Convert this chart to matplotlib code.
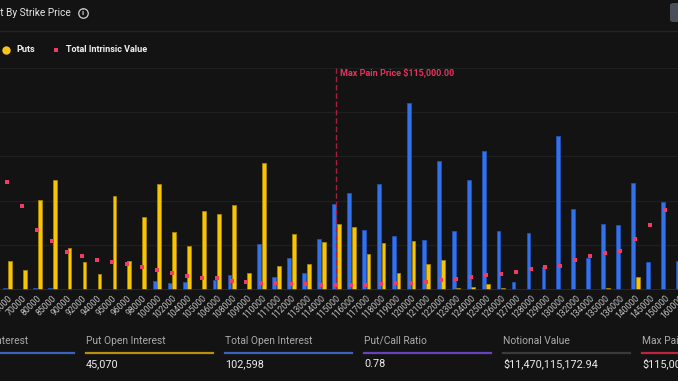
import matplotlib
matplotlib.use('Agg')
import matplotlib.pyplot as plt
from matplotlib.lines import Line2D
from matplotlib.patches import FancyBboxPatch
import numpy as np

plt.rcParams['font.family'] = ['Roboto', 'DejaVu Sans']

# ---------------- data ----------------
strikes = ['65000', '70000', '80000', '85000', '90000', '92000', '94000', '95000',
           '96000', '98000', '100000', '102000', '104000', '105000', '106000', '108000',
           '109000', '110000', '111000', '112000', '113000', '114000', '115000', '116000',
           '117000', '118000', '119000', '120000', '121000', '122000', '123000', '124000',
           '125000', '126000', '127000', '128000', '129000', '130000', '132000', '134000',
           '135000', '136000', '140000', '145000', '150000', '160000']
calls = [40, 0, 30, 25, 0, 0, 0, 0, 0, 0, 191, 140, 176, 0, 221, 320,
         0, 1025, 275, 716, 379, 1144, 1926, 2180, 1347, 2383, 1212, 4194, 1108, 2901,
         1318, 2459, 3119, 1318, 176, 1266, 500, 3457, 1806, 716, 1468, 1453, 2392, 612,
         1964, 642]
puts = [635, 432, 2009, 2466, 935, 612, 356, 2113, 649, 1633, 2369, 1295, 986, 1761,
        1707, 1910, 379, 2849, 529, 1243, 567, 1063, 1482, 1414, 806, 1040, 379, 1092,
        567, 658, 25, 56, 124, 25, 0, 0, 0, 0, 0, 0, 25, 0, 288, 0, 0, 0]
intrinsic_b = [2.42, 1.88, 1.33, 1.085, 0.838, 0.755, 0.671, 0.619, 0.581, 0.50,
               0.439, 0.365, 0.297, 0.259, 0.252, 0.198, 0.176, 0.153, 0.146, 0.124,
               0.117, 0.108, 0.100, 0.103, 0.108, 0.124, 0.140, 0.153, 0.176, 0.214,
               0.244, 0.282, 0.320, 0.349, 0.401, 0.455, 0.500, 0.536, 0.658, 0.755,
               0.822, 0.874, 1.131, 1.453, 1.791, 2.20]
max_pain_strike = '115000'
max_pain_label = 'Max Pain Price $115,000.00'

title = 'Open Interest By Strike Price'
legend_labels = ['Puts', 'Total Intrinsic Value']

card_titles = ['Call Open Interest', 'Put Open Interest', 'Total Open Interest',
               'Put/Call Ratio', 'Notional Value', 'Max Pain Price']
card_values = ['57,528', '45,070', '102,598', '0.78', '$11,470,115,172.94', '$115,000.00']
card_colors = ['#3a63c0', '#b8900f', '#3a63c0', '#6642bd', '#3a3a3d', '#c2233f']

# ---------------- style ----------------
BG = '#131313'
BLUE = '#3273ec'
BLUE_E = '#2252b8'
YEL = '#f7c600'
YEL_E = '#a88400'
RED = '#f03c62'

W, H = 678, 381
fig = plt.figure(figsize=(W / 100, H / 100), dpi=100, facecolor=BG)

def fx(x):
    return x / W

def fy(y):
    return 1 - y / H

PT = 72 / 100  # points per pixel

# axes geometry (pixels): category i centre at 7.3 + 14.95*i
step = 14.95
c0 = 7.3
xl, xr = -1, 46
left_px = c0 + step * xl
right_px = c0 + step * xr
top_px, bot_px = 67.5, 289.5
ax = fig.add_axes([fx(left_px), fy(bot_px), (right_px - left_px) / W, (bot_px - top_px) / H])
ax.set_facecolor(BG)
for s in ax.spines.values():
    s.set_visible(False)

x = np.arange(len(strikes))
bw = 0.254
ax.bar(x - 0.14, calls, width=bw, color=BLUE, edgecolor=BLUE_E, linewidth=0.6, zorder=3)
ax.bar(x + 0.167, puts, width=bw, color=YEL, edgecolor=YEL_E, linewidth=0.6, zorder=3)
ax.set_xlim(xl, xr)
ax.set_ylim(0, 5000)
ax.set_yticks([1000, 2000, 3000, 4000, 5000])
ax.yaxis.grid(True, color='#1f1f1f', linewidth=0.9, zorder=0)
ax.tick_params(axis='y', left=False, labelleft=False)
ax.axhline(0, color='#2e2e2e', linewidth=1.2, zorder=4)

ax.set_xticks(x)
ax.set_xticklabels(strikes, rotation=45, ha='right', va='top', fontsize=6.2,
                   color='#c2c2c2', rotation_mode='anchor')
ax.tick_params(axis='x', length=0, pad=3)

mp = strikes.index(max_pain_strike)
ax.axvline(mp, color='#a3213f', linewidth=1.0, linestyle=(0, (4, 2)), zorder=5)
ax.text(mp + 0.25, 4892, max_pain_label, color='#e2345a', fontsize=6.5,
        fontweight='bold', ha='left', va='center', zorder=6)

ax2 = ax.twinx()
ax2.set_ylim(0, 5)
ax2.plot(x, intrinsic_b, linestyle='none', marker='s', markersize=3.8 * PT,
         markeredgewidth=0, color=RED, zorder=6)
ax2.axis('off')

# ---------------- header ----------------
fig.text(fx(71), fy(13), title, color='#e6e6e6', fontsize=7.3, ha='right', va='center')
fig.add_artist(Line2D([fx(83)], [fy(12.5)], marker='o', markersize=9.5 * PT,
                      markerfacecolor='none', markeredgecolor='#cfcfcf',
                      markeredgewidth=0.9, linestyle='none'))
fig.text(fx(83), fy(12.8), 'i', color='#cfcfcf', fontsize=5.8, fontweight='bold',
         ha='center', va='center')
fig.add_artist(Line2D([0, 1], [fy(31), fy(31)], color='#232323', linewidth=1.0))
fig.add_artist(FancyBboxPatch((fx(670), fy(22)), 20 / W, 19 / H,
                              boxstyle='round,pad=0,rounding_size=0.006',
                              transform=fig.transFigure, facecolor='#4a4e59',
                              edgecolor='none'))

# legend
fig.add_artist(Line2D([fx(6)], [fy(49.5)], marker='o', markersize=8.4 * PT,
                      markerfacecolor='#f5c518', markeredgewidth=0, linestyle='none'))
fig.text(fx(16), fy(49.5), legend_labels[0], color='#f0f0f0', fontsize=6.5,
         fontweight='bold', ha='left', va='center')
fig.add_artist(Line2D([fx(56)], [fy(49.5)], marker='s', markersize=3.6 * PT,
                      markerfacecolor=RED, markeredgewidth=0, linestyle='none'))
fig.text(fx(66), fy(49.5), legend_labels[1], color='#f0f0f0', fontsize=6.5,
         fontweight='bold', ha='left', va='center')

# ---------------- cards ----------------
card_x0 = -53
card_gap = 139
card_w = 127
for i, (t, v, c) in enumerate(zip(card_titles, card_values, card_colors)):
    x0 = card_x0 + i * card_gap
    fig.text(fx(x0), fy(341), t, color='#ababab', fontsize=7.4, ha='left', va='center')
    fig.add_artist(Line2D([fx(x0), fx(x0 + card_w)], [fy(352.5), fy(352.5)],
                          color=c, linewidth=1.6))
    fig.text(fx(x0), fy(364), v, color='#ececec', fontsize=7.8, ha='left', va='center')

fig.savefig('out.png', dpi=100, facecolor=BG)
